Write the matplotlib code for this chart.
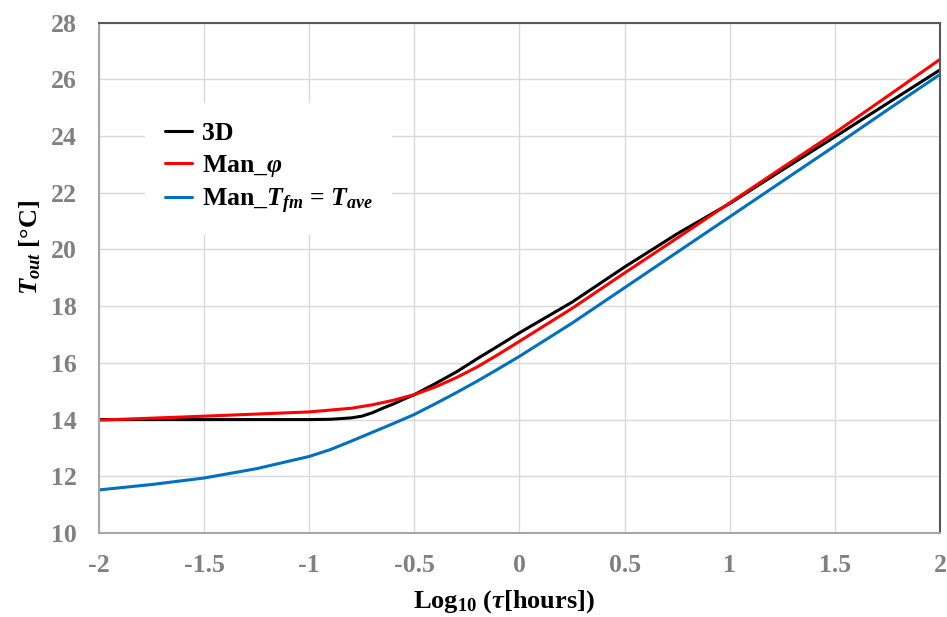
import matplotlib
matplotlib.use('Agg')
import matplotlib.pyplot as plt

# ---------------- data ----------------
x_3d = [-2.0, -1.5, -1.0, -0.9, -0.8, -0.75, -0.7, -0.65, -0.6, -0.55, -0.5,
        -0.4, -0.3, -0.2, -0.1, 0.0, 0.25, 0.5, 0.75, 1.0, 1.25, 1.5, 1.75, 2.0]
y_3d = [14.0, 14.0, 14.0, 14.01, 14.06, 14.12, 14.24, 14.4, 14.55, 14.72, 14.88,
        15.27, 15.68, 16.15, 16.6, 17.06, 18.14, 19.38, 20.55, 21.62, 22.8, 23.97, 25.15, 26.33]

x_phi = [-2.0, -1.5, -1.0, -0.8, -0.7, -0.6, -0.5, -0.4, -0.3, -0.2, -0.1,
         0.0, 0.25, 0.5, 0.75, 1.0, 1.25, 1.5, 1.75, 2.0]
y_phi = [13.98, 14.12, 14.27, 14.4, 14.52, 14.68, 14.88, 15.15, 15.48, 15.86, 16.3,
         16.76, 17.92, 19.17, 20.4, 21.64, 22.88, 24.11, 25.4, 26.7]

x_ave = [-2.0, -1.75, -1.5, -1.25, -1.0, -0.9, -0.8, -0.7, -0.6, -0.5, -0.4, -0.3,
         -0.2, -0.1, 0.0, 0.25, 0.5, 0.75, 1.0, 1.25, 1.5, 1.75, 2.0]
y_ave = [11.52, 11.71, 11.94, 12.27, 12.7, 12.94, 13.24, 13.55, 13.86, 14.18, 14.56, 14.95,
         15.36, 15.79, 16.23, 17.4, 18.65, 19.9, 21.15, 22.4, 23.65, 24.92, 26.17]

labels = ['3D', 'Man_$\\varphi$', 'Man_$T_{fm}$ = $T_{ave}$']
colors = ['#000000', '#FF0000', '#0070C0']

x_ticks = [-2, -1.5, -1, -0.5, 0, 0.5, 1, 1.5, 2]
x_tick_labels = ['-2', '-1.5', '-1', '-0.5', '0', '0.5', '1', '1.5', '2']
y_ticks = [10, 12, 14, 16, 18, 20, 22, 24, 26, 28]

# ---------------- style ----------------
plt.rcParams['font.family'] = ['Liberation Serif', 'DejaVu Serif']
plt.rcParams['font.weight'] = 'bold'
plt.rcParams['mathtext.fontset'] = 'custom'
plt.rcParams['mathtext.rm'] = 'Liberation Serif:bold'
plt.rcParams['mathtext.it'] = 'Liberation Serif:italic:bold'
plt.rcParams['mathtext.bf'] = 'Liberation Serif:bold'
plt.rcParams['mathtext.default'] = 'it'

fig = plt.figure(figsize=(9.47, 6.17), dpi=100)
ax = fig.add_axes([0.1045, 0.1361, 0.8881, 0.8274])

series = [(x_3d, y_3d), (x_phi, y_phi), (x_ave, y_ave)]
handles = []
for (xs, ys), c, lab in zip(series, colors, labels):
    h, = ax.plot(xs, ys, color=c, lw=2.2, label=lab, solid_capstyle='round',
                 solid_joinstyle='round')
    handles.append(h)

ax.set_xlim(-2, 2)
ax.set_ylim(10, 28)
ax.set_xticks(x_ticks)
ax.set_xticklabels(x_tick_labels)
ax.set_yticks(y_ticks)
ax.grid(True, color='#D9D9D9', lw=1.0)
ax.set_axisbelow(True)

ax.tick_params(axis='both', length=0, labelsize=18.5, labelcolor='#808080')
ax.tick_params(axis='y', pad=16)
ax.tick_params(axis='x', pad=15)
for lbl in ax.get_xticklabels() + ax.get_yticklabels():
    lbl.set_fontweight('bold')

for s in ['left', 'bottom']:
    ax.spines[s].set_color('#A6A6A6')
    ax.spines[s].set_linewidth(1.5)
for s in ['top', 'right']:
    ax.spines[s].set_color('#595959')
    ax.spines[s].set_linewidth(1.5)

ax.set_xlabel('Log$_{10}$ ($\\tau$[hours])', fontsize=19, fontweight='bold',
              color='black')
ax.xaxis.set_label_coords(0.482, -0.108)
ax.set_ylabel('$T_{out}$ [°C]', fontsize=19, fontweight='bold', color='black')
ax.yaxis.set_label_coords(-0.0666, 0.56)

leg = ax.legend(handles=handles, labels=labels, loc='upper left',
                bbox_to_anchor=(0.040, 0.868), frameon=True, fancybox=False,
                framealpha=1.0, edgecolor='none', facecolor='white',
                prop={'family': 'Liberation Serif', 'weight': 'bold', 'size': 18.5},
                handlelength=1.05, handletextpad=0.4, labelspacing=0.3,
                borderpad=0.75)

fig.savefig('out.png', dpi=100)
